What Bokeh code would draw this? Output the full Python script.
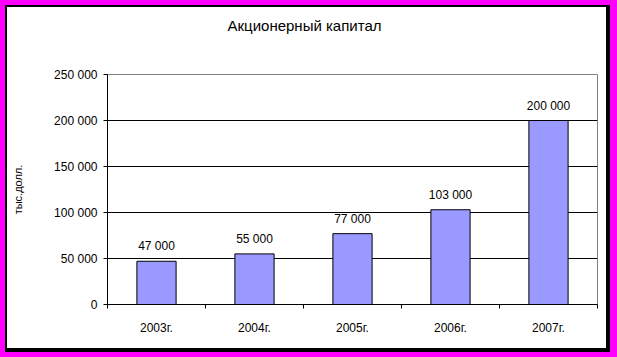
import numpy as np
from bokeh.plotting import figure
from bokeh.models import ColumnDataSource, Range1d, FixedTicker, LabelSet, Title
from bokeh.core.properties import value
from bokeh.embed import file_html
from bokeh.resources import INLINE

title_text = "Акционерный капитал"
y_axis_title = "тыс.долл."
years = ["2003г.", "2004г.", "2005г.", "2006г.", "2007г."]
values = [47000, 55000, 77000, 103000, 200000]
y_ticks = [0, 50000, 100000, 150000, 200000, 250000]
y_tick_labels = ["0", "50 000", "100 000", "150 000", "200 000", "250 000"]

FONT = "Liberation Sans"

x = np.arange(len(years)) + 0.5
src = ColumnDataSource(dict(
    x=x, top=values,
    label=[f"{v:,}".replace(",", " ") for v in values],
))

p = figure(width=617, height=357, output_backend="svg", toolbar_location=None,
           x_range=Range1d(0, len(years)), y_range=Range1d(0, 250000),
           min_border_left=107, min_border_right=20, min_border_top=74,
           min_border_bottom=53)
# decorative page frame (magenta margin, black border, white panel)
p.styles = {
    "background": "linear-gradient(white, white) 7px 7px / 599px 341px no-repeat, "
                  "linear-gradient(black, black) 5px 5px / 605px 347px no-repeat, "
                  "#FF00FF"
}
p.border_fill_color = None
p.border_fill_alpha = 0
p.background_fill_color = "white"
p.outline_line_color = "#808080"
p.outline_line_width = 1

# real title (outer) and an empty spacer title next to the frame
p.title.text = title_text
p.title.align = "left"
p.title.offset = 120
p.title.standoff = 0
p.title.text_font = FONT
p.title.text_font_size = "15px"
p.title.text_font_style = "normal"
p.title.text_color = "black"
p.add_layout(Title(text=" ", standoff=22, text_font=FONT, text_font_size="15px"), "above")

p.vbar(x="x", top="top", width=0.4, bottom=0, source=src,
       fill_color="#9999FF", line_color="black", line_width=1)

labels = LabelSet(x="x", y="top", text="label", source=src, text_align="center",
                  text_baseline="bottom", y_offset=8, text_font=value(FONT),
                  text_font_size=value("12px"), text_color="black")
p.add_layout(labels)

# x axis
xa = p.xaxis[0]
xa.ticker = FixedTicker(ticks=list(x), minor_ticks=list(range(len(years) + 1)))
xa.major_label_overrides = {float(xx): yl for xx, yl in zip(x, years)}
xa.major_tick_out = 0
xa.major_tick_in = 0
xa.minor_tick_out = 4
xa.minor_tick_in = 0
xa.minor_tick_line_color = "black"
xa.major_label_standoff = 12
xa.major_label_text_font = FONT
xa.major_label_text_font_size = "12px"
xa.major_label_text_color = "black"
xa.axis_line_color = "black"

# y axis
ya = p.yaxis[0]
ya.ticker = FixedTicker(ticks=y_ticks)
ya.major_label_overrides = {t: l for t, l in zip(y_ticks, y_tick_labels)}
ya.major_tick_out = 4
ya.major_tick_in = 0
ya.major_tick_line_color = "black"
ya.minor_tick_line_color = None
ya.major_label_standoff = 6
ya.major_label_text_font = FONT
ya.major_label_text_font_size = "12px"
ya.major_label_text_color = "black"
ya.axis_line_color = "black"
ya.axis_label = y_axis_title
ya.axis_label_text_font = FONT
ya.axis_label_text_font_size = "11px"
ya.axis_label_text_font_style = "normal"
ya.axis_label_text_color = "black"
ya.axis_label_standoff = 27

p.xgrid.visible = False
p.ygrid.ticker = FixedTicker(ticks=y_ticks[1:-1])
p.ygrid.grid_line_color = "black"
p.ygrid.grid_line_width = 1

open("out.html", "w").write(file_html(p, INLINE))
